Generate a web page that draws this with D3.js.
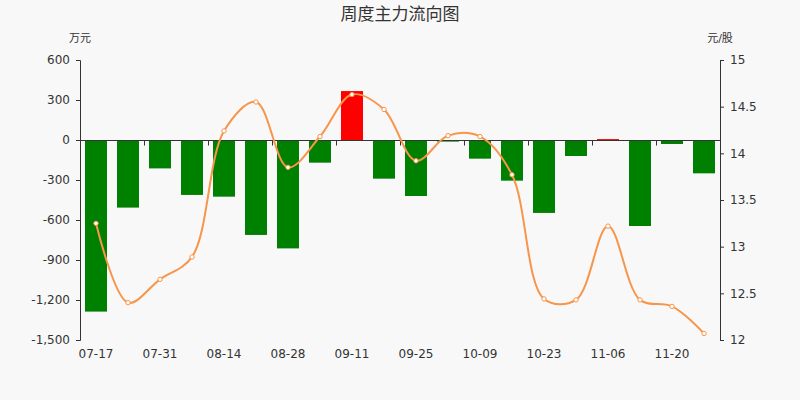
<!DOCTYPE html>
<html>
<head>
<meta charset="utf-8">
<script src="https://cdn.jsdelivr.net/npm/d3@7"></script>
<style>
  body { margin: 0; background: #f8f8f8; }
  text { font-family: "DejaVu Sans", "Noto Sans CJK SC", sans-serif; }
</style>
</head>
<body>
<div id="chart"></div>
<script>
// weekly main-force flow, 万元
const weeks = ['07-17', '07-24', '07-31', '08-07', '08-14', '08-21', '08-28', '09-04', '09-11', '09-18',
	'09-25', '10-02', '10-09', '10-16', '10-23', '10-30', '11-06', '11-13', '11-20', '11-27'];
const flow = [-1287, -507, -213, -412, -425, -712, -813, -170, 367, -290,
	-420, -12, -140, -305, -547, -120, 7, -645, -30, -250];
// closing price, 元/股
const price = [13.25, 12.4, 12.65, 12.89, 14.24, 14.55, 13.85, 14.18, 14.63, 14.47,
	13.92, 14.19, 14.18, 13.77, 12.44, 12.43, 13.22, 12.43, 12.36, 12.07];
const flowTicks = [600, 300, 0, -300, -600, -900, -1200, -1500];
const priceTicks = [15, 14.5, 14, 13.5, 13, 12.5, 12];

const width = 800, height = 400;
const margin = { top: 60, right: 80, bottom: 60, left: 80 };

const svg = d3.select('#chart').append('svg')
	.attr('width', width).attr('height', height)
	.style('background', '#f8f8f8');

const x = d3.scaleBand().domain(weeks).range([margin.left, width - margin.right]);
const y = d3.scaleLinear().domain([-1500, 600]).range([height - margin.bottom, margin.top]);
const y2 = d3.scaleLinear().domain([12, 15]).range([height - margin.bottom, margin.top]);

// title and axis names
svg.append('text').attr('x', 400).attr('y', 20).attr('text-anchor', 'middle')
	.attr('font-size', 17).attr('fill', '#333').text('周度主力流向图');
svg.append('text').attr('x', 80).attr('y', 42).attr('text-anchor', 'middle')
	.attr('font-size', 11).attr('fill', '#333').text('万元');
svg.append('text').attr('x', 720).attr('y', 42).attr('text-anchor', 'middle')
	.attr('font-size', 11).attr('fill', '#333').text('元/股');

// left axis
const yAxis = svg.append('g')
	.attr('transform', `translate(${margin.left},0)`)
	.call(d3.axisLeft(y).tickValues(flowTicks).tickSize(4).tickPadding(6)
		.tickFormat(d => d3.format(',')(d).replace('−', '-')));
// right axis
const y2Axis = svg.append('g')
	.attr('transform', `translate(${width - margin.right},0)`)
	.call(d3.axisRight(y2).tickValues(priceTicks).tickSize(4).tickPadding(6)
		.tickFormat(d => String(d)));
[yAxis, y2Axis].forEach(g => {
	g.select('.domain').attr('stroke', '#333');
	g.selectAll('.tick line').attr('stroke', '#333');
	g.selectAll('.tick text').attr('fill', '#333').attr('font-size', 12)
		.style('font-family', '"DejaVu Sans", sans-serif');
});

// bars
svg.append('g').selectAll('rect').data(flow).join('rect')
	.attr('x', (d, i) => x(weeks[i]) + 5)
	.attr('width', x.bandwidth() - 10)
	.attr('y', d => y(Math.max(0, d)))
	.attr('height', d => Math.abs(y(d) - y(0)))
	.attr('fill', d => d >= 0 ? '#ff0000' : '#008000');

// x axis on the zero line
const xAxis = svg.append('g').attr('transform', `translate(0,${y(0) + 0.5})`);
xAxis.append('line').attr('x1', margin.left).attr('x2', width - margin.right)
	.attr('stroke', '#333');
xAxis.selectAll('line.tk').data(weeks.filter((d, i) => i % 2 === 0 && i > 0)).join('line')
	.attr('class', 'tk')
	.attr('x1', d => x(d) + 0.5).attr('x2', d => x(d) + 0.5)
	.attr('y1', 0).attr('y2', 5).attr('stroke', '#333');
svg.append('g').selectAll('text').data(weeks.filter((d, i) => i % 2 === 0)).join('text')
	.attr('x', d => x(d) + x.bandwidth() / 2)
	.attr('y', height - margin.bottom + 18)
	.attr('text-anchor', 'middle').attr('font-size', 12).attr('fill', '#333')
	.text(d => d);

// price line
const line = d3.line()
	.x((d, i) => x(weeks[i]) + x.bandwidth() / 2)
	.y(d => y2(d))
	.curve(d3.curveCatmullRom.alpha(0.5));
svg.append('path').datum(price)
	.attr('d', line)
	.attr('fill', 'none').attr('stroke', '#f7954a').attr('stroke-width', 2);
svg.append('g').selectAll('circle').data(price).join('circle')
	.attr('cx', (d, i) => x(weeks[i]) + x.bandwidth() / 2)
	.attr('cy', d => y2(d))
	.attr('r', 2.2)
	.attr('fill', '#fff').attr('stroke', '#f7954a').attr('stroke-width', 1);
</script>
</body>
</html>
